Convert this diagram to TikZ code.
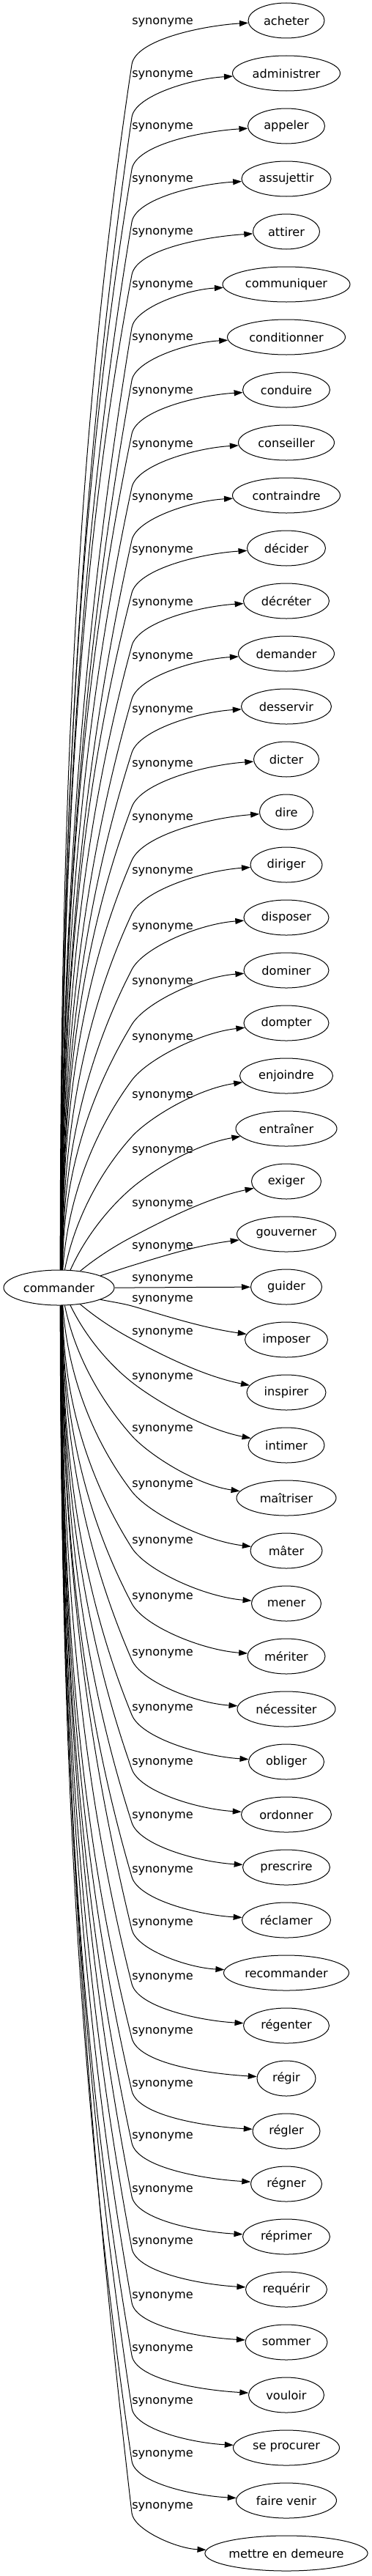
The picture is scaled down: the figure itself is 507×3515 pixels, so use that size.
\documentclass[tikz,border=0pt]{standalone}
\usepackage{fontspec}
\setmainfont{DejaVu Sans}
\usetikzlibrary{arrows.meta,shapes.geometric}
\begin{document}
\begin{tikzpicture}[x=0.75pt,y=-0.75pt,
  every node/.style={font=\fontsize{12.1pt}{14pt}\selectfont},
  word/.style={draw, ellipse, line width=0.75pt, inner sep=0pt, minimum height=36pt, minimum width=#1*0.75pt},
  rel/.style={inner sep=0pt},
  syn/.style={draw, line width=0.75pt, -{Triangle[length=9pt,width=6pt]}}]
\useasboundingbox (0,0) rectangle (507,3515);
\node[word=151] (c) at (80.5,1757) {commander};
\foreach \i/\txt/\ww/\ly/\ang/\kd in {
0/acheter/104/31/86/57,
1/administrer/147/103/85.6/57,
2/appeler/105/174/85.2/57,
3/assujettir/122/246/84.8/57,
4/attirer/91/318/84.4/57,
5/communiquer/174/390/84/57,
6/conditionner/161/462/83.6/57,
7/conduire/119/535/83.2/57,
8/conseiller/131/608/82.8/57,
9/contraindre/147/680/82.4/57,
10/décider/107/752/82/57,
11/décréter/117/824/81.6/57,
12/demander/131/897/81.2/57,
13/desservir/123/970/80.8/57,
14/dicter/89/1044/80.4/57,
15/dire/73/1117/80/57,
16/diriger/98/1190/79.6/57,
17/disposer/116/1266/79.2/57,
18/dominer/116/1341/78.8/57,
19/dompter/116/1417/78.4/57,
20/enjoindre/127/1496/72/55,
21/entraîner/138/1571/57/50,
22/exiger/95/1644/38/44,
23/gouverner/135/1702/16/25,
24/guider/97/1746/0/11,
25/imposer/113/1774/-16/8,
26/inspirer/108/1819/-38/8,
27/intimer/104/1880/-57/6,
28/maîtriser/136/1951/-72/8,
29/mâter/98/2027/-78.4/8,
30/mener/95/2104/-78.8/8,
31/mériter/106/2180/-79.2/8,
32/nécessiter/134/2257/-79.6/8,
33/obliger/103/2332/-80/8,
34/ordonner/123/2406/-80.4/8,
35/prescrire/119/2479/-80.8/8,
36/réclamer/121/2553/-81.2/8,
37/recommander/171/2625/-81.6/8,
38/régenter/117/2699/-82/8,
39/régir/80/2773/-82.4/8,
40/régler/92/2845/-82.8/8,
41/régner/97/2916/-83.2/8,
42/réprimer/119/2989/-83.6/8,
43/requérir/111/3060/-84/8,
44/sommer/112/3134/-84.4/8,
45/vouloir/103/3206/-84.8/8,
46/se procurer/145/3278/-85.2/8,
47/faire venir/137/3350/-85.6/8,
48/mettre en demeure/222/3421/-86/8}
{
  \pgfmathsetmacro{\ty}{28+72*\i}
  \pgfmathsetmacro{\tx}{391-\ww/2}
  \node[word=\ww] (t\i) at (391,\ty) {\txt};
  \node[rel] (l\i) at (222,\ly) {synonyme};
  \pgfmathsetmacro{\ca}{cos(\ang)}
  \pgfmathsetmacro{\sa}{sin(\ang)}
  \pgfmathsetmacro{\rr}{1812/veclen(24*\ca,75.5*\sa)}
  \pgfmathsetmacro{\sx}{80.5+\rr*\ca}
  \pgfmathsetmacro{\sy}{1757-\rr*\sa}
  \pgfmathsetmacro{\kx}{180}
  \pgfmathsetmacro{\ky}{\ly+\kd}
  \pgfmathsetmacro{\nn}{max(0,min(1,1-(abs(\i-24)-1)/5))}
  \pgfmathsetmacro{\dxa}{\tx-\sx}
  \pgfmathsetmacro{\dya}{\ty-\sy}
  \pgfmathsetmacro{\dl}{100*veclen(\dxa/100,\dya/100)}
  \pgfmathsetmacro{\ux}{\dxa/\dl}
  \pgfmathsetmacro{\uy}{\dya/\dl}
  \pgfmathsetmacro{\lks}{100*veclen((\kx-\sx)/100,(\ky-\sy)/100)}
  \pgfmathsetmacro{\ltk}{100*veclen((\tx-\kx)/100,(\ty-\ky)/100)}
  \pgfmathsetmacro{\ax}{\sx+\nn*0.4*(\kx-\sx)}
  \pgfmathsetmacro{\ay}{\sy+0.4*(\ky-\sy)}
  \pgfmathsetmacro{\bx}{\kx-0.3*\lks*\ux}
  \pgfmathsetmacro{\by}{\ky-0.3*\lks*\uy}
  \pgfmathsetmacro{\cx}{\kx+0.2*\ltk*\ux}
  \pgfmathsetmacro{\cy}{\ky+0.2*\ltk*\uy}
  \pgfmathsetmacro{\mm}{(0.3+0.6*\nn)*(\ty-\ky)/(\tx-\kx)}
  \pgfmathsetmacro{\bb}{0.4*(\tx-\kx)}
  \pgfmathsetmacro{\ex}{\tx-\bb}
  \pgfmathsetmacro{\ey}{\ty-\bb*\mm}
  \draw[syn] (c.\ang) .. controls (\ax,\ay) and (\bx,\by) .. (\kx,\ky) .. controls (\cx,\cy) and (\ex,\ey) .. (t\i);
}
\end{tikzpicture}
\end{document}
